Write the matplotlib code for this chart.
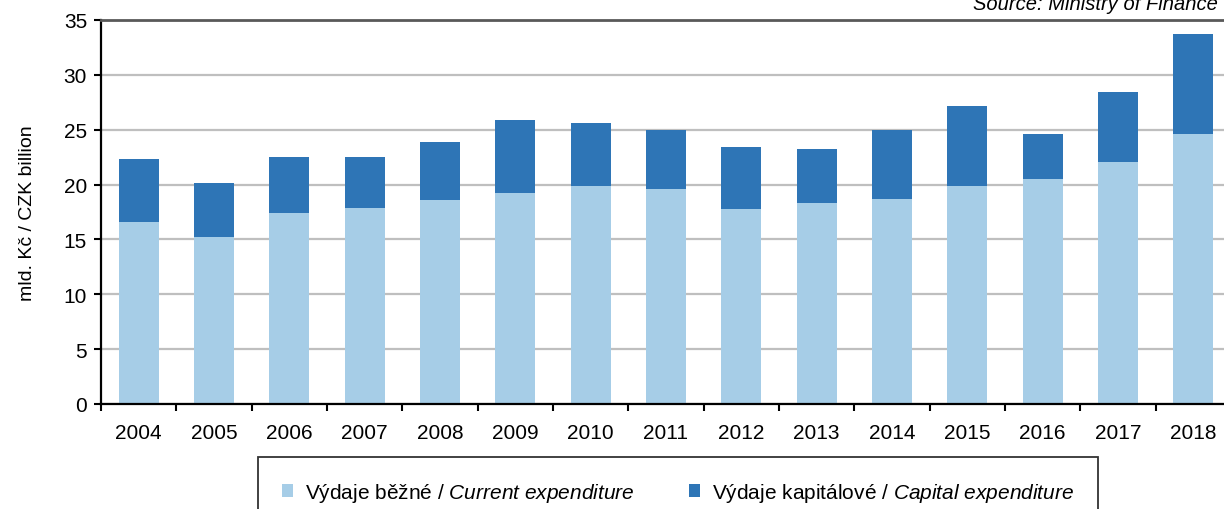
import matplotlib
matplotlib.use("Agg")
import matplotlib.pyplot as plt
import numpy as np

years = ["2004", "2005", "2006", "2007", "2008", "2009", "2010", "2011",
         "2012", "2013", "2014", "2015", "2016", "2017", "2018"]
current = [16.6, 15.2, 17.4, 17.9, 18.6, 19.2, 19.9, 19.6,
           17.8, 18.3, 18.7, 19.9, 20.5, 22.1, 24.6]
total = [22.3, 20.1, 22.5, 22.5, 23.9, 25.9, 25.6, 25.0,
         23.4, 23.2, 25.0, 27.2, 24.6, 28.4, 33.7]
capital = [t - c for t, c in zip(total, current)]

plt.rcParams['font.family'] = ['Liberation Sans', 'DejaVu Sans']
plt.rcParams['mathtext.fontset'] = 'custom'
plt.rcParams['mathtext.rm'] = 'Liberation Sans'
plt.rcParams['mathtext.it'] = 'Liberation Sans:italic'

c_cur = "#A6CDE7"
c_cap = "#2E75B6"

fig = plt.figure(figsize=(12.24, 5.10), dpi=100)
W, H = 1224, 510
ax = fig.add_axes([101 / W, 1 - 405 / H, (1231 - 101) / W, (405 - 21) / H])

x = np.arange(len(years))
bw = 0.53
ax.bar(x, current, bw, color=c_cur, zorder=2,
       label="Výdaje běžné / $\\mathit{Current\\ expenditure}$")
ax.bar(x, capital, bw, bottom=current, color=c_cap, zorder=2,
       label="Výdaje kapitálové / $\\mathit{Capital\\ expenditure}$")

ax.set_xlim(-0.5, len(years) - 0.5)
ax.set_ylim(0, 35)
ax.set_yticks(np.arange(0, 36, 5))
ax.yaxis.grid(True, color="#BFBFBF", linewidth=1.6, zorder=0)
ax.set_axisbelow(True)

ax.set_xticks(x)
ax.set_xticklabels(years)
ax.set_xticks(np.arange(-0.5, len(years), 1.0), minor=True)
ax.tick_params(axis='x', which='major', length=0, pad=14, labelsize=15)
ax.tick_params(axis='x', which='minor', length=5, width=1.5, direction='out', color='black')
ax.tick_params(axis='y', length=5, width=1.5, direction='out', labelsize=15, pad=5)

ax.spines['right'].set_visible(False)
ax.spines['top'].set_color('#595959')
ax.spines['top'].set_linewidth(2)
ax.spines['left'].set_linewidth(1.6)
ax.spines['bottom'].set_linewidth(1.6)

ax.set_ylabel("mld. Kč / CZK billion", fontsize=14, labelpad=20)

fig.text(1218 / W, 1 - 5 / H, "Source: Ministry of Finance", ha='right', va='center',
         fontsize=14.5, style='italic')

leg = fig.legend(loc='upper left', bbox_to_anchor=(258 / W, 1 - 458 / H), ncol=2,
                 fontsize=15, frameon=True, fancybox=False, edgecolor='black',
                 handlelength=0.55, handleheight=0.55, handletextpad=0.55,
                 columnspacing=2.6, borderpad=1.15, borderaxespad=0)
leg.get_frame().set_linewidth(1.3)

fig.savefig("out.png", dpi=100)
